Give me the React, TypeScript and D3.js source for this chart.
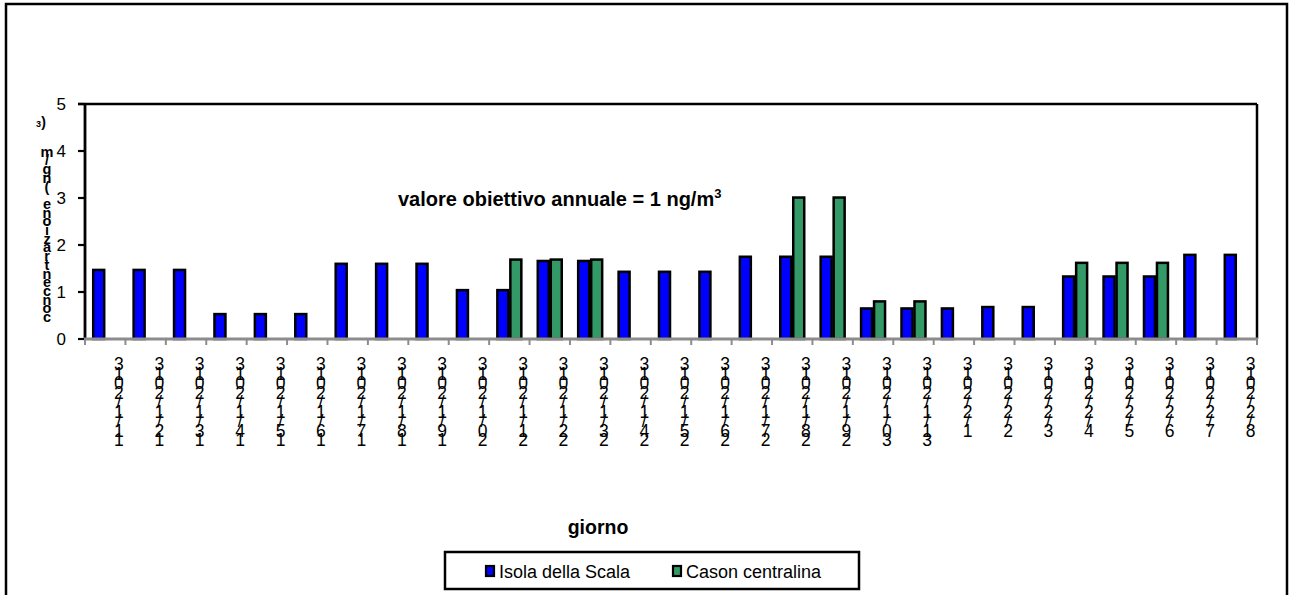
import React from "react";
import * as d3 from "d3";

const days = [
  "11/1/2013", "12/1/2013", "13/1/2013", "14/1/2013", "15/1/2013", "16/1/2013",
  "17/1/2013", "18/1/2013", "19/1/2013", "20/1/2013", "21/1/2013", "22/1/2013",
  "23/1/2013", "24/1/2013", "25/1/2013", "26/1/2013", "27/1/2013", "28/1/2013",
  "29/1/2013", "30/1/2013", "31/1/2013", "1/2/2013", "2/2/2013", "3/2/2013",
  "4/2/2013", "5/2/2013", "6/2/2013", "7/2/2013", "8/2/2013",
];

const isolaDellaScala: (number | null)[] = [
  1.47, 1.47, 1.47, 0.53, 0.53, 0.53, 1.6, 1.6, 1.6, 1.04, 1.04, 1.66, 1.66,
  1.43, 1.43, 1.43, 1.75, 1.75, 1.75, 0.65, 0.65, 0.65, 0.68, 0.68, 1.33, 1.33,
  1.33, 1.79, 1.79,
];

const casonCentralina: (number | null)[] = [
  null, null, null, null, null, null, null, null, null, null, 1.69, 1.69, 1.69,
  null, null, null, null, 3.01, 3.01, 0.8, 0.8, null, null, null, 1.62, 1.62,
  1.62, null, null,
];

const seriesNames = ["Isola della Scala", "Cason centralina"];
const seriesColors = ["#0000FF", "#339966"];
const yTicks = [0, 1, 2, 3, 4, 5];
const yTitle = "concentrazione (ng/m";
const xTitle = "giorno";
const annotation = "valore obiettivo annuale = 1 ng/m";

const FONT = "'Liberation Sans', Arial, sans-serif";

export default function App() {
  const W = 1289;
  const H = 595;
  const left = 85;
  const right = 1257;
  const top = 104;
  const bottom = 339;

  const xCat = d3.scaleBand<string>().domain(days).range([left, right]);
  const x0 = d3
    .scaleBand<string>()
    .domain(days)
    .range([left, right])
    .paddingInner(0.357)
    .paddingOuter(0.1785);
  const x1 = d3
    .scaleBand<string>()
    .domain(seriesNames)
    .range([0, x0.bandwidth()]);
  const y = d3.scaleLinear().domain([0, 5]).range([bottom, top]);

  const series = [isolaDellaScala, casonCentralina];
  const step = xCat.step();

  // stacked y-title chars, drawn bottom-up
  const titleChars = yTitle.split("").reverse();

  return (
    <div style={{ position: "absolute", left: 0, top: 0 }}>
      <svg width={W} height={H} style={{ display: "block" }} fontFamily={FONT}>
        <rect x={0} y={0} width={W} height={H} fill="#fff" />
        {/* outer chart border */}
        <rect x={6} y={4} width={1281} height={620} fill="none" stroke="#000" strokeWidth={2.5} />

        {/* plot border top/right */}
        <line x1={left - 7} x2={right} y1={top} y2={top} stroke="#000" strokeWidth={2.5} />
        <line x1={right} x2={right} y1={top} y2={bottom} stroke="#000" strokeWidth={2.5} />

        {/* bars */}
        {series.map((vals, si) =>
          vals.map((v, i) => {
            if (v == null) return null;
            const bx = (x0(days[i]) as number) + (x1(seriesNames[si]) as number);
            const bw = x1.bandwidth();
            return (
              <rect
                key={`${si}-${i}`}
                x={bx + 1}
                y={y(v)}
                width={bw - 2}
                height={bottom - y(v)}
                fill={seriesColors[si]}
                stroke="#000"
                strokeWidth={2.5}
              />
            );
          })
        )}

        {/* y axis */}
        <line x1={left} x2={left} y1={top - 1} y2={bottom} stroke="#000" strokeWidth={2.8} />
        {yTicks.map((t) => (
          <g key={t}>
            <line x1={left - 7} x2={left} y1={y(t)} y2={y(t)} stroke="#000" strokeWidth={2.2} />
            <text x={66} y={y(t) + 6} textAnchor="end" fontSize={17} fill="#000">
              {t}
            </text>
          </g>
        ))}

        {/* x axis */}
        <line x1={left - 1} x2={right + 1} y1={bottom} y2={bottom} stroke="#8c8c8c" strokeWidth={2.8} />
        {[...days.map((d) => xCat(d) as number), right].map((tx, i) => (
          <line key={i} x1={tx} x2={tx} y1={bottom} y2={bottom + 6} stroke="#8c8c8c" strokeWidth={2} />
        ))}

        {/* stacked x labels */}
        {days.map((d) => {
          const cx = (xCat(d) as number) + step - 6.5;
          const chars = d.split("").reverse();
          return (
            <text key={d} y={370.4} textAnchor="middle" fontSize={17.5} fill="#000">
              {chars.map((c, j) => (
                <tspan key={j} x={cx} dy={j === 0 ? 0 : 9.5}>
                  {c}
                </tspan>
              ))}
            </text>
          );
        })}

        {/* stacked y title */}
        <text y={127} textAnchor="middle" fontWeight="bold" fill="#000">
          <tspan x={38.5} fontSize={9}>3</tspan>
          <tspan x={43.5} fontSize={14}>)</tspan>
          {titleChars.map((c, j) => (
            <tspan key={j} x={47} y={156.7 + 8.7 * j} fontSize={14.5}>
              {c === " " ? "\u00a0" : c}
            </tspan>
          ))}
        </text>

        {/* annotation */}
        <text x={398} y={206} fontSize={20} fontWeight="bold" fill="#000">
          {annotation}
          <tspan fontSize={13} dy={-8}>
            3
          </tspan>
        </text>

        {/* x title */}
        <text x={598} y={534} textAnchor="middle" fontSize={19.5} fontWeight="bold" fill="#000">
          {xTitle}
        </text>

        {/* legend */}
        <rect x={445} y={552} width={414} height={37} fill="#fff" stroke="#000" strokeWidth={2.5} />
        {seriesNames.map((n, i) => {
          const lx = [486, 673][i];
          return (
            <g key={n}>
              <rect x={lx} y={566} width={8} height={10} fill={seriesColors[i]} stroke="#000" strokeWidth={2.2} />
              <text x={lx + 13} y={578} fontSize={18} fill="#000">
                {n}
              </text>
            </g>
          );
        })}
      </svg>
    </div>
  );
}
